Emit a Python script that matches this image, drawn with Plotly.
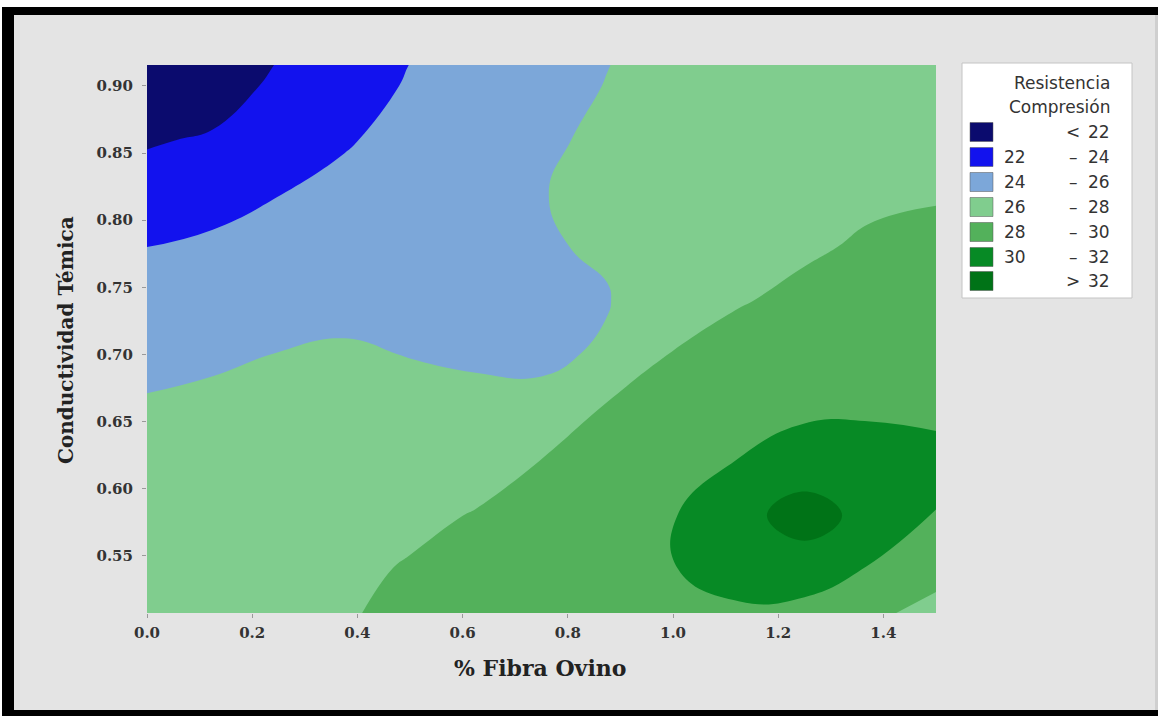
import plotly.graph_objects as go

# ---- data ----
fibra = [0.0, 0.125, 0.25, 0.375, 0.5, 0.625, 0.75, 0.875, 1.0, 1.125, 1.25, 1.375, 1.5]
conductividad = [0.50, 0.54, 0.58, 0.62, 0.66, 0.70, 0.74, 0.78, 0.82, 0.86, 0.90, 0.94]

# resistencia a compresión, one list per % fibra column (bottom -> top)
col_000 = [27.2, 27.1, 26.85, 26.6, 26.2, 25.47, 24.74, 24.0, 22.9, 21.8, 20.6, 19.4]
col_0125 = [27.4, 27.15, 26.9, 26.65, 26.35, 25.76, 25.04, 24.31, 23.35, 22.22, 21.04, 19.9]
col_025 = [27.6, 27.35, 27.1, 26.85, 26.55, 26.03, 25.35, 24.65, 23.96, 23.2, 22.4, 21.6]
col_0375 = [27.85, 27.6, 27.35, 27.05, 26.7, 26.17, 25.6, 25.0, 24.43, 23.85, 23.25, 22.65]
col_050 = [28.65, 28.15, 27.58, 27.03, 26.49, 25.96, 25.6, 25.25, 24.88, 24.52, 24.15, 23.8]
col_0625 = [29.3, 28.7, 28.1, 27.28, 26.25, 25.87, 25.62, 25.36, 25.11, 24.86, 24.6, 24.35]
col_075 = [29.8, 29.4, 28.9, 28.05, 26.5, 25.65, 25.75, 25.85, 25.95, 25.75, 25.45, 25.15]
col_0875 = [29.9, 29.6, 29.25, 28.75, 28.2, 26.25, 25.9, 26.2, 26.4, 26.3, 26.05, 25.85]
col_100 = [29.5, 29.95, 29.9, 29.4, 28.8, 28.05, 27.6, 27.3, 27.05, 26.8, 26.6, 26.4]
col_1125 = [29.6, 30.6, 31.4, 30.05, 29.3, 28.6, 27.9, 27.6, 27.35, 27.15, 26.95, 26.75]
col_125 = [29.0, 31.1, 32.8, 31.0, 29.6, 29.1, 28.35, 27.8, 27.6, 27.45, 27.3, 27.15]
col_1375 = [28.1, 29.85, 31.4, 30.6, 29.8, 29.4, 28.9, 28.2, 27.75, 27.6, 27.45, 27.3]
col_150 = [27.2, 28.6, 29.95, 30.4, 29.7, 29.35, 29.0, 28.5, 27.85, 27.65, 27.5, 27.35]

columns = [col_000, col_0125, col_025, col_0375, col_050, col_0625, col_075,
           col_0875, col_100, col_1125, col_125, col_1375, col_150]

niveles = [22, 24, 26, 28, 30, 32]
legend_left = ["", "22", "24", "26", "28", "30", ""]
legend_mid = ["<", "–", "–", "–", "–", "–", ">"]
legend_right = ["22", "24", "26", "28", "30", "32", "32"]
band_colors = ["#0b0b6e", "#1212ee", "#7ca7d9", "#80cd8e", "#53b15b", "#078a25", "#007317"]

x_ticks = [0.0, 0.2, 0.4, 0.6, 0.8, 1.0, 1.2, 1.4]
y_ticks = [0.55, 0.60, 0.65, 0.70, 0.75, 0.80, 0.85, 0.90]

# z[row=y][col=x]
z = [[columns[j][i] for j in range(len(fibra))] for i in range(len(conductividad))]

# stepped colorscale: band midpoints 21..33 -> 0..1
cs = []
n = len(band_colors)
for k, c in enumerate(band_colors):
    lo = max(0.0, (k - 0.5) / (n - 1))
    hi = min(1.0, (k + 0.5) / (n - 1))
    cs.append([lo, c])
    cs.append([hi, c])

W, H = 1158, 716
L, R, T, B = 147, 936, 65, 613
PW, PH = R - L, B - T


def px(x):
    return (x - L) / PW


def py(y):
    return (B - y) / PH


fig = go.Figure()
fig.add_trace(go.Contour(
    x=fibra, y=conductividad, z=z,
    colorscale=cs, showscale=False,
    contours=dict(start=niveles[0], end=niveles[-1], size=2, coloring="fill", showlines=False),
    line=dict(width=0, smoothing=1.3),
    hoverinfo="skip",
))

shapes = []
# page frame
shapes.append(dict(type="rect", xref="paper", yref="paper", x0=px(0), x1=px(W), y0=py(0), y1=py(H),
                   fillcolor="white", line=dict(width=0), layer="below"))
shapes.append(dict(type="rect", xref="paper", yref="paper", x0=px(2), x1=px(W), y0=py(7), y1=py(H),
                   fillcolor="black", line=dict(width=0), layer="below"))
shapes.append(dict(type="rect", xref="paper", yref="paper", x0=px(14), x1=px(1155), y0=py(15), y1=py(710),
                   fillcolor="#e4e4e4", line=dict(width=0), layer="below"))
shapes.append(dict(type="rect", xref="paper", yref="paper", x0=px(1155), x1=px(W), y0=py(15), y1=py(710),
                   fillcolor="#cfcfcf", line=dict(width=0), layer="below"))
# legend box
shapes.append(dict(type="rect", xref="paper", yref="paper", x0=px(962), x1=px(1132), y0=py(63), y1=py(298),
                   fillcolor="white", line=dict(color="#c4c4c4", width=1), layer="below"))

annotations = []
lfont = dict(family="DejaVu Sans", size=17, color="#333333")
annotations.append(dict(xref="paper", yref="paper", x=px(1112), y=py(83), text="Resistencia",
                        xanchor="right", yanchor="middle", showarrow=False, font=lfont))
annotations.append(dict(xref="paper", yref="paper", x=px(1112), y=py(107), text="Compresión",
                        xanchor="right", yanchor="middle", showarrow=False, font=lfont))
row_y = [132, 157, 182, 207, 232, 257, 281]
for k in range(n):
    yc = row_y[k]
    shapes.append(dict(type="rect", xref="paper", yref="paper", x0=px(970), x1=px(993),
                       y0=py(yc - 9.5), y1=py(yc + 9.5), fillcolor=band_colors[k],
                       line=dict(color="#555555", width=0.5), layer="below"))
    if legend_left[k]:
        annotations.append(dict(xref="paper", yref="paper", x=px(1002), y=py(yc), text=legend_left[k],
                                xanchor="left", yanchor="middle", showarrow=False, font=lfont))
    annotations.append(dict(xref="paper", yref="paper", x=px(1073), y=py(yc), text=legend_mid[k],
                            xanchor="center", yanchor="middle", showarrow=False, font=lfont))
    annotations.append(dict(xref="paper", yref="paper", x=px(1112), y=py(yc), text=legend_right[k],
                            xanchor="right", yanchor="middle", showarrow=False, font=lfont))

annotations.append(dict(xref="paper", yref="paper", x=px(540), y=py(668), text="% Fibra Ovino",
                        xanchor="center", yanchor="middle", showarrow=False,
                        font=dict(family="DejaVu Serif", size=22, color="#222222", weight="bold")))
annotations.append(dict(xref="paper", yref="paper", x=px(66), y=py(340), text="Conductividad Témica",
                        textangle=-90, xanchor="center", yanchor="middle", showarrow=False,
                        font=dict(family="DejaVu Serif", size=20, color="#222222", weight="bold")))

tfont = dict(family="DejaVu Serif", size=15, color="#333333", weight="bold")
fig.update_layout(
    width=W, height=H,
    margin=dict(l=L, r=W - R, t=T, b=H - B),
    paper_bgcolor="white", plot_bgcolor="#e4e4e4",
    shapes=shapes, annotations=annotations,
    showlegend=False,
    xaxis=dict(range=[0, 1.5], tickvals=x_ticks, ticktext=[f"{v:.1f}" for v in x_ticks],
               ticks="outside", ticklen=4, tickcolor="#999999", showgrid=False, zeroline=False,
               showline=False, tickfont=tfont, ticklabelstandoff=2),
    yaxis=dict(range=[0.5073, 0.9156], tickvals=y_ticks, ticktext=[f"{v:.2f}" for v in y_ticks],
               ticks="outside", ticklen=4, tickcolor="#999999", showgrid=False, zeroline=False,
               showline=False, tickfont=tfont, ticklabelstandoff=6),
)

fig.write_html("out.html", config={"displayModeBar": False},
               post_script="document.body.style.margin='0px';document.body.style.overflow='hidden';")
